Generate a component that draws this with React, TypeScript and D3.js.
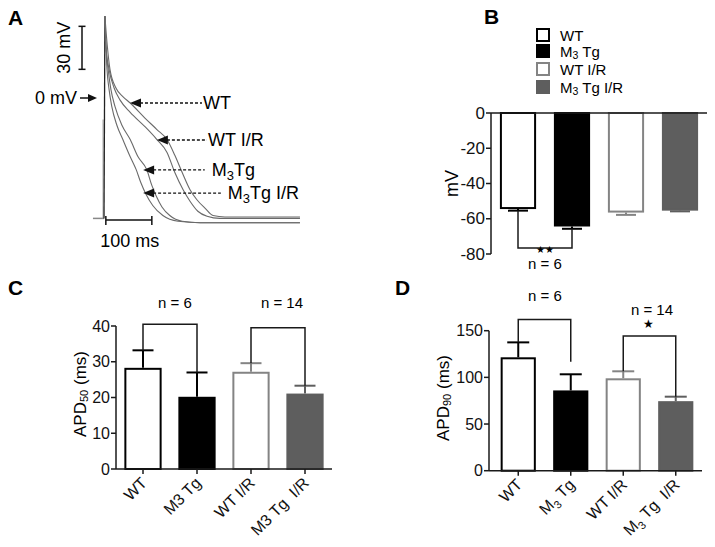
import React from "react";
import * as d3 from "d3";

const FONT = "'Liberation Sans', Arial, Helvetica, sans-serif";

// ---------- data ----------
const groups = ["WT", "M3 Tg", "WT I/R", "M3 Tg I/R"];
const tickLabels = ["WT", "M3 Tg", "WT I/R", "M3 Tg\u00a0 I/R"];
const restMean = [-54.5, -64.4, -56.5, -55.4];
const restSem = [0.9, 1.3, 1.3, 0.4];
const apd50Mean = [28.3, 20.2, 27.2, 21.1];
const apd50Sem = [4.9, 6.8, 2.4, 2.2];
const apd90Mean = [121.5, 86, 99, 74.5];
const apd90Sem = [16, 17.3, 7.5, 4.8];

const restTicks = [0, -20, -40, -60, -80];
const apd50Ticks = [0, 10, 20, 30, 40];
const apd90Ticks = [0, 50, 100, 150];

// action potential traces [ms, mV]
const traceWT: [number, number][] = [[2, 57], [7, 37], [13, 20], [26, 7], [41, 1], [57, -3.5], [89, -14], [115, -22], [137, -29], [154, -40], [170, -52], [187, -64], [202, -71], [220, -77], [237, -82], [263, -83], [426, -83]];
const traceWTIR: [number, number][] = [[2, 57], [4, 37], [11, 20], [22, 7], [35, -1.5], [57, -10], [89, -20], [115, -29], [137, -38], [154, -52], [172, -64], [187, -72], [204, -79], [224, -82.5], [252, -84], [426, -84]];
const traceM3: [number, number][] = [[2, 57], [4, 37], [9, 20], [15, 6], [24, -6], [39, -19], [57, -29], [74, -41], [93, -50], [104, -61], [113, -68], [126, -76], [143, -82], [170, -86], [209, -87], [426, -87]];
const traceM3IR: [number, number][] = [[2, 57], [4, 37], [6.5, 20], [11, 6], [17, -6], [28, -19], [41, -29], [57, -41], [70, -50], [80, -59], [91, -67], [106, -75], [128, -82], [161, -86], [209, -87], [426, -87]];
const traces = [traceWT, traceWTIR, traceM3, traceM3IR];

// arrow annotations: [tip ms, tip mV], dash end ms
const arrowLabels = ["WT", "WT I/R", "M3Tg", "M3Tg I/R"];
const arrowTips: [number, number][] = [[56.5, -3.5], [115, -29.3], [85, -50.2], [85, -66.3]];
const arrowDashEnd = [213, 224, 219, 254];

const barFill = ["#ffffff", "#000000", "#ffffff", "#5e5e5e"];
const barStroke = ["#000000", "#000000", "#848484", "#5e5e5e"];

function SubLabel({ text, sub, size }: { text: string; sub: boolean; size: number }) {
  if (!text.startsWith("M3") || !sub) return <>{text}</>;
  const rest = text.slice(2);
  return (
    <>
      <tspan>M</tspan>
      <tspan dy={size * 0.28} fontSize={size * 0.7}>3</tspan>
      <tspan dy={-size * 0.28}>{rest}</tspan>
    </>
  );
}

function YAxis({ x, scale, ticks, top, bottom, fs }: { x: number; scale: d3.ScaleLinear<number, number>; ticks: number[]; top: number; bottom: number; fs: number }) {
  return (
    <g>
      <line x1={x} x2={x} y1={top} y2={bottom} stroke="#1a1a1a" strokeWidth={1.5} />
      {ticks.map((t) => (
        <g key={t}>
          <line x1={x - 5} x2={x} y1={scale(t)} y2={scale(t)} stroke="#1a1a1a" strokeWidth={1.5} />
          <text x={x - 6} y={scale(t)} textAnchor="end" dominantBaseline="central" fontSize={fs} fill="#111">{t}</text>
        </g>
      ))}
    </g>
  );
}

function BarPanel({ xs, ys, means, sems, axisX, axisRight, ticks, sub, brackets, capW }: any) {
  const bw = xs.bandwidth();
  const y0 = ys(0);
  return (
    <g>
      {groups.map((g, i) => {
        const x = xs(g);
        const yv = ys(means[i]);
        const ye = ys(means[i] + sems[i]);
        const cx = x + bw / 2;
        return (
          <g key={g}>
            <line x1={cx} x2={cx} y1={yv} y2={ye} stroke={barStroke[i]} strokeWidth={2} />
            <line x1={cx - capW / 2} x2={cx + capW / 2} y1={ye} y2={ye} stroke={barStroke[i]} strokeWidth={2} />
            <rect x={x + 1} y={yv + 1} width={bw - 2} height={y0 - yv - 1} fill={barFill[i]} stroke={barStroke[i]} strokeWidth={2} />
          </g>
        );
      })}
      <line x1={axisX} x2={axisRight} y1={y0} y2={y0} stroke="#1a1a1a" strokeWidth={1.5} />
      {groups.map((g, i) => {
        const cx = xs(g) + bw / 2;
        return (
          <g key={"t" + g}>
            <line x1={cx} x2={cx} y1={y0} y2={y0 + 5} stroke="#1a1a1a" strokeWidth={1.5} />
            <text transform={`translate(${cx + 5},${y0 + 15}) rotate(-45)`} textAnchor="end" fontSize={16} fill="#111">
              <SubLabel text={tickLabels[i]} sub={sub} size={16} />
            </text>
          </g>
        );
      })}
      <YAxis x={axisX} scale={ys} ticks={ticks} top={ys(ticks[ticks.length - 1])} bottom={y0} fs={16} />
      {brackets.map((b: any, k: number) => {
        const xa = xs(groups[b.a]) + bw / 2;
        const xb = xs(groups[b.b]) + bw / 2;
        const ya = ys(b.aEnd ?? means[b.a] + sems[b.a]);
        const yb = ys(b.bEnd ?? means[b.b] + sems[b.b]);
        const yl = ys(b.level);
        return <path key={k} d={`M${xa},${ya}V${yl}H${xb}V${yb}`} fill="none" stroke="#1a1a1a" strokeWidth={1.5} />;
      })}
    </g>
  );
}

export default function App() {
  // ---- Panel A ----
  const tx = d3.scaleLinear().domain([0, 100]).range([104, 150]);
  const vy = d3.scaleLinear().domain([0, 30]).range([98, 55]);
  const line = d3.line<[number, number]>().x((d) => tx(d[0])).y((d) => vy(d[1])).curve(d3.curveMonotoneX);

  // ---- Panel B ----
  const xB = d3.scaleBand<string>().domain(groups).range([491, 707]).paddingInner(0.33).paddingOuter(0.165);
  const yB = d3.scaleLinear().domain([-80, 0]).range([254, 113]);
  const bwB = xB.bandwidth();

  // ---- Panel C ----
  const xC = d3.scaleBand<string>().domain(groups).range([116, 332]).paddingInner(0.31).paddingOuter(0.155);
  const yC = d3.scaleLinear().domain([0, 40]).range([469, 326]);

  // ---- Panel D ----
  const xD = d3.scaleBand<string>().domain(groups).range([492, 702]).paddingInner(0.33).paddingOuter(0.165);
  const yD = d3.scaleLinear().domain([0, 150]).range([470.7, 330.7]);

  const legendY = [35, 51, 69, 87];

  return (
    <svg width={715} height={547} style={{ position: "absolute", left: 0, top: 0, background: "#fff" }} fontFamily={FONT}>
      <rect width={715} height={547} fill="#fff" />
      {/* Panel labels */}
      <text x={8} y={25} fontSize={21} fontWeight="bold">A</text>
      <text x={484} y={24} fontSize={21} fontWeight="bold">B</text>
      <text x={8} y={295} fontSize={21} fontWeight="bold">C</text>
      <text x={395} y={295} fontSize={21} fontWeight="bold">D</text>

      {/* ===== Panel A ===== */}
      <g>
        <line x1={tx(-24)} x2={tx(0)} y1={vy(-84)} y2={vy(-84)} stroke="#888" strokeWidth={1.5} />
        <line x1={tx(-2)} x2={tx(-2)} y1={vy(-84)} y2={vy(-15)} stroke="#999" strokeWidth={1} />
        <line x1={tx(0)} x2={tx(2)} y1={vy(-84)} y2={vy(57)} stroke="#222" strokeWidth={1.3} />
        {traces.map((tr, i) => (
          <path key={i} d={line(tr) || ""} fill="none" stroke="#6a6a6a" strokeWidth={1.1} />
        ))}
        <g stroke="#111" strokeWidth={1.5}>
          <line x1={82} x2={82} y1={vy(50)} y2={vy(20)} />
          <line x1={78.5} x2={85.5} y1={vy(50)} y2={vy(50)} />
          <line x1={78.5} x2={85.5} y1={vy(20)} y2={vy(20)} />
        </g>
        <text transform={`translate(64,${(vy(50) + vy(20)) / 2}) rotate(-90)`} textAnchor="middle" dominantBaseline="central" fontSize={18}>30 mV</text>
        <text x={35} y={vy(0)} dominantBaseline="central" fontSize={18}>0 mV</text>
        <line x1={80} x2={90} y1={vy(0)} y2={vy(0)} stroke="#111" strokeWidth={1.5} />
        <polygon points={`${97},${vy(0)} ${88},${vy(0) - 4} ${88},${vy(0) + 4}`} fill="#111" />
        <g stroke="#111" strokeWidth={1.5}>
          <line x1={tx(4)} x2={tx(104)} y1={220} y2={220} />
          <line x1={tx(4)} x2={tx(4)} y1={216} y2={225} />
          <line x1={tx(104)} x2={tx(104)} y1={216} y2={225} />
        </g>
        <text x={(tx(4) + tx(104)) / 2 + 1} y={241} textAnchor="middle" dominantBaseline="central" fontSize={18}>100 ms</text>
        {arrowLabels.map((lab, i) => {
          const xt = tx(arrowTips[i][0]);
          const yt = vy(arrowTips[i][1]);
          const xe = tx(arrowDashEnd[i]);
          return (
            <g key={lab}>
              <line x1={xt + 10} x2={xe} y1={yt} y2={yt} stroke="#111" strokeWidth={1.3} strokeDasharray="3,2" />
              <polygon points={`${xt},${yt} ${xt + 11},${yt - 4.5} ${xt + 11},${yt + 4.5}`} fill="#111" />
              <text x={xe + (i >= 2 ? 7 : 1)} y={yt} dominantBaseline="central" fontSize={18}>
                {lab.startsWith("M3") ? (
                  <>
                    <tspan>M</tspan>
                    <tspan dy={5} fontSize={13}>3</tspan>
                    <tspan dy={-5}>{lab.slice(2)}</tspan>
                  </>
                ) : lab}
              </text>
            </g>
          );
        })}
      </g>

      {/* ===== Panel B ===== */}
      <g>
        {groups.map((g, i) => (
          <g key={"lg" + g}>
            <rect x={537} y={legendY[i] - 6} width={12} height={12} fill={barFill[i]} stroke={barStroke[i]} strokeWidth={2} />
            <text x={560} y={legendY[i]} dominantBaseline="central" fontSize={15}>
              <SubLabel text={g} sub={true} size={15} />
            </text>
          </g>
        ))}
        {groups.map((g, i) => {
          const x = xB(g) as number;
          const cx = x + bwB / 2;
          const y0 = yB(0);
          const yv = yB(restMean[i]);
          const ye = yB(restMean[i] - restSem[i]);
          return (
            <g key={"b" + g}>
              <line x1={cx} x2={cx} y1={yv} y2={ye} stroke={barStroke[i]} strokeWidth={2} />
              <line x1={cx - 10} x2={cx + 10} y1={ye} y2={ye} stroke={barStroke[i]} strokeWidth={2} />
              <rect x={x + 1} y={y0} width={bwB - 2} height={yv - y0 - 1} fill={barFill[i]} stroke={barStroke[i]} strokeWidth={2} />
            </g>
          );
        })}
        <line x1={491} x2={707} y1={yB(0)} y2={yB(0)} stroke="#1a1a1a" strokeWidth={1.5} />
        <YAxis x={491} scale={yB} ticks={restTicks} top={yB(0)} bottom={yB(-80)} fs={17} />
        <text transform={`translate(452,${yB(-40)}) rotate(-90)`} textAnchor="middle" dominantBaseline="central" fontSize={18}>mV</text>
        {(() => {
          const xa = (xB(groups[0]) as number) + bwB / 2;
          const xb = (xB(groups[1]) as number) + bwB / 2;
          const lvl = yB(-76.6);
          return (
            <g>
              <path d={`M${xa},${yB(restMean[0] - restSem[0])}V${lvl}H${xb}V${yB(restMean[1] - restSem[1])}`} fill="none" stroke="#1a1a1a" strokeWidth={1.5} />
              <text x={(xa + xb) / 2} y={lvl + 1.5} textAnchor="middle" dominantBaseline="central" fontSize={10}>★★</text>
              <text x={(xa + xb) / 2} y={lvl + 15} textAnchor="middle" dominantBaseline="central" fontSize={15}>n = 6</text>
            </g>
          );
        })()}
      </g>

      {/* ===== Panel C ===== */}
      <BarPanel xs={xC} ys={yC} means={apd50Mean} sems={apd50Sem} axisX={116} axisRight={332} ticks={apd50Ticks} sub={false} capW={21}
        brackets={[{ a: 0, b: 1, level: 40.5 }, { a: 2, b: 3, level: 39.5 }]} />
      <text x={175} y={302} textAnchor="middle" dominantBaseline="central" fontSize={15}>n = 6</text>
      <text x={282} y={302} textAnchor="middle" dominantBaseline="central" fontSize={15}>n = 14</text>
      <text transform={`translate(80,394) rotate(-90)`} textAnchor="middle" dominantBaseline="central" fontSize={17}>
        APD<tspan dy={4} fontSize={11}>50</tspan><tspan dy={-4}> (ms)</tspan>
      </text>

      {/* ===== Panel D ===== */}
      <BarPanel xs={xD} ys={yD} means={apd90Mean} sems={apd90Sem} axisX={489} axisRight={702} ticks={apd90Ticks} sub={true} capW={22}
        brackets={[{ a: 0, b: 1, level: 162, bEnd: 116.8 }, { a: 2, b: 3, level: 144.3 }]} />
      <text x={545} y={295} textAnchor="middle" dominantBaseline="central" fontSize={15}>n = 6</text>
      <text x={652} y={309} textAnchor="middle" dominantBaseline="central" fontSize={15}>n = 14</text>
      <text x={648} y={324} textAnchor="middle" dominantBaseline="central" fontSize={12}>★</text>
      <text transform={`translate(443,398) rotate(-90)`} textAnchor="middle" dominantBaseline="central" fontSize={17}>
        APD<tspan dy={4} fontSize={11}>90</tspan><tspan dy={-4}> (ms)</tspan>
      </text>
    </svg>
  );
}
